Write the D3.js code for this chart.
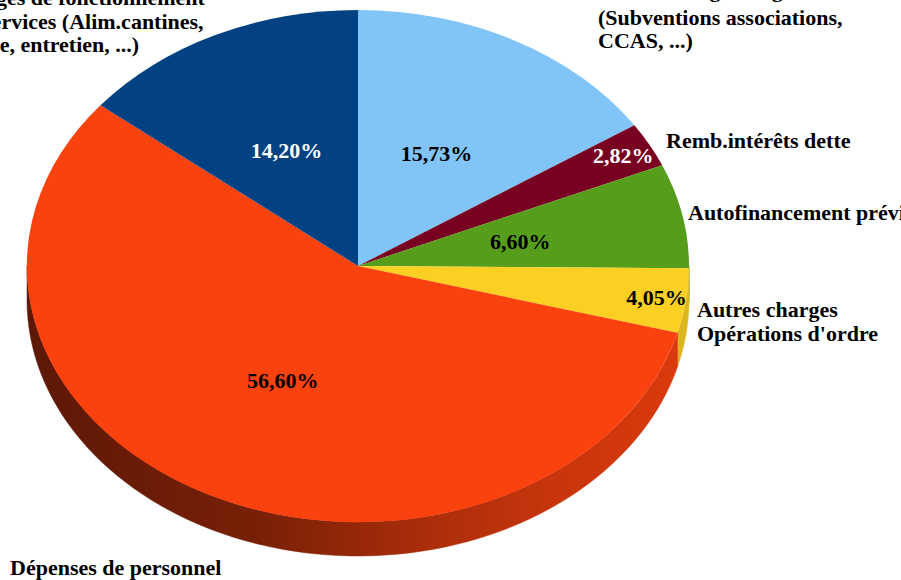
<!DOCTYPE html>
<html>
<head>
<meta charset="utf-8">
<script src="https://cdn.jsdelivr.net/npm/d3@7"></script>
<style>
  html, body { margin: 0; padding: 0; background: #ffffff; }
  svg { display: block; }
  text { font-family: "Liberation Serif", "Times New Roman", serif; font-weight: bold; }
</style>
</head>
<body>
<svg id="chart" width="901" height="580"></svg>
<script>
// ---- Data ----
const categories = [
  "Autres charges de gestion courante (Subventions associations, CCAS, ...)",
  "Remb.intérêts dette",
  "Autofinancement prévisionnel",
  "Autres charges Opérations d'ordre",
  "Dépenses de personnel",
  "Charges de fonctionnement des services (Alim.cantines, énergie, entretien, ...)"
];
const values = [15.73, 2.82, 6.60, 4.05, 56.60, 14.20];
const labelLines = [
  ["Autres charges de gestion", "(Subventions associations,", "CCAS, ...)"],
  ["Remb.intérêts dette"],
  ["Autofinancement prévisionnel"],
  ["Autres charges", "Opérations d'ordre"],
  ["Dépenses de personnel"],
  ["Charges de fonctionnement", "des services (Alim.cantines,", "énergie, entretien, ...)"]
];

// ---- Style / layout ----
const colors = ["#80c4f8", "#780020", "#579d1c", "#fbd022", "#fa420f", "#024282"];
const pctColors = ["#000", "#fff", "#000", "#000", "#000", "#fff"];
// [x, y of first baseline, optional per-line [dx, dy] tweaks]
const labelPos = [
  [598, 1, [[0, -4], [0, 0], [0, 0]]],
  [666, 148],
  [688, 220],
  [697, 317],
  [10, 575],
  [-53, 5, [[0, 0], [0, 0], [-6, 0]]]
];
const lineH = 23.5;
const W = 901, H = 580;
const cx = 358, cy = 266, rx = 331, ry = 256, depth = 34;

const svg = d3.select("#chart");
const defs = svg.append("defs");

const pie = d3.pie().sort(null).value(d => d).startAngle(0).endAngle(2 * Math.PI);
const arcs = pie(values);

const fr = d3.formatLocale({decimal: ",", thousands: " ", grouping: [3], currency: ["", "€"]});
const fmt = v => fr.format(".2f")(v) + "%";

// side gradients
const stops = [[0, 0.37], [0.35, 0.48], [0.6, 0.68], [0.8, 0.8], [1, 0.88]];
arcs.forEach((a, i) => {
  const base = d3.rgb(colors[i]);
  const g = defs.append("linearGradient")
    .attr("id", "side" + i)
    .attr("gradientUnits", "userSpaceOnUse")
    .attr("x1", cx - rx).attr("x2", cx + rx).attr("y1", 0).attr("y2", 0);
  stops.forEach(([o, k]) => {
    g.append("stop").attr("offset", o)
      .attr("stop-color", d3.rgb(base.r * k, base.g * k, base.b * k).formatHex());
  });
});

// walls (front half only)
const line = d3.line();
const px = a => cx + rx * Math.sin(a);
const py = a => cy - ry * Math.cos(a);
const walls = svg.append("g");
arcs.forEach((a, i) => {
  const lo = Math.max(a.startAngle, Math.PI / 2);
  const hi = Math.min(a.endAngle, 3 * Math.PI / 2);
  if (lo >= hi) return;
  const n = 80;
  const top = d3.range(n + 1).map(k => lo + (hi - lo) * k / n);
  const pts = top.map(t => [px(t), py(t)])
    .concat(top.slice().reverse().map(t => [px(t), py(t) + depth]));
  walls.append("path")
    .attr("d", line(pts) + "Z")
    .attr("fill", "url(#side" + i + ")")
    .attr("stroke", "url(#side" + i + ")")
    .attr("stroke-width", 0.5);
});

// top faces
const arcGen = d3.arc().innerRadius(0).outerRadius(1);
svg.append("g")
  .attr("transform", `translate(${cx},${cy}) scale(${rx},${ry})`)
  .selectAll("path")
  .data(arcs)
  .join("path")
  .attr("d", arcGen)
  .attr("fill", (d, i) => colors[i]);

// percentage labels
const fac = d => d.value < 5 ? 0.91 : 0.5;
svg.append("g").selectAll("text")
  .data(arcs)
  .join("text")
  .attr("x", d => cx + rx * fac(d) * Math.sin((d.startAngle + d.endAngle) / 2))
  .attr("y", d => cy - ry * fac(d) * Math.cos((d.startAngle + d.endAngle) / 2))
  .attr("dy", "0.35em")
  .attr("text-anchor", "middle")
  .attr("font-size", 22)
  .attr("fill", (d, i) => pctColors[i])
  .text(d => fmt(d.value));

// category labels
const lg = svg.append("g");
labelLines.forEach((lines, i) => {
  const [x0, y0, tw] = labelPos[i];
  const t = lg.append("text")
    .attr("x", x0)
    .attr("y", y0)
    .attr("font-size", 22)
    .attr("fill", "#000");
  lines.forEach((s, j) => {
    const adj = tw ? tw[j] : [0, 0];
    t.append("tspan")
      .attr("x", x0 + adj[0])
      .attr("y", y0 + j * lineH + adj[1])
      .text(s);
  });
});
</script>
</body>
</html>
